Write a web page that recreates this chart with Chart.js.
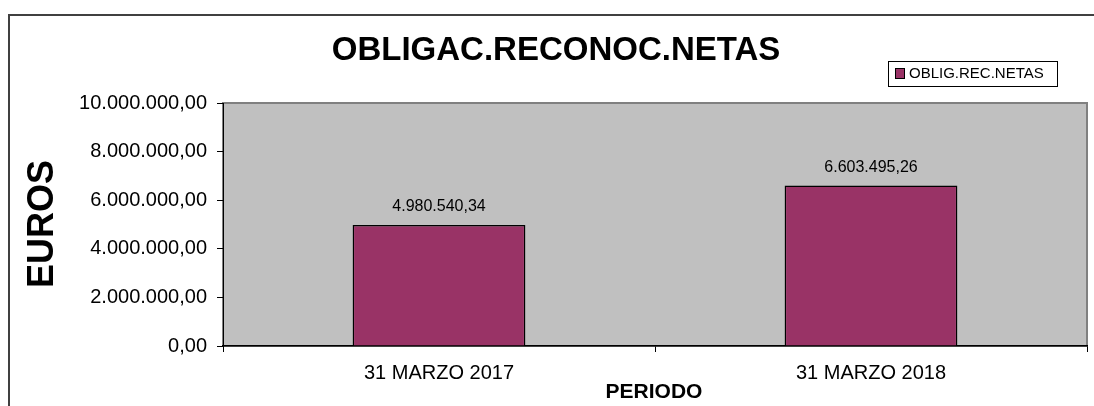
<!DOCTYPE html>
<html>
<head>
<meta charset="utf-8">
<script src="https://cdn.jsdelivr.net/npm/chart.js@4"></script>
<style>
  html, body { margin: 0; padding: 0; background: #fff; }
  #wrap { width: 1094px; height: 406px; }
</style>
</head>
<body>
<div id="wrap"><canvas id="chart" width="1094" height="406"></canvas></div>
<script>
// Chart data
const categories = ['31 MARZO 2017', '31 MARZO 2018'];
const seriesName = 'OBLIG.REC.NETAS';
const seriesValues = [4980540.34, 6603495.26];
const yTicks = [0, 2000000, 4000000, 6000000, 8000000, 10000000];

const FONT = '"Liberation Sans", Arial, sans-serif';
const BAR_COLOR = '#993366';

// 1234567.8 -> "1.234.567,80"
function fmt(v) {
    const parts = v.toFixed(2).split('.');
    const int = parts[0].replace(/\B(?=(\d{3})+(?!\d))/g, '.');
    return int + ',' + parts[1];
}

// frame, plot background, title, axis titles, legend and bar labels
const decor = {
    id: 'decor',
    beforeDraw(chart) {
        const { ctx, chartArea: a } = chart;
        ctx.save();
        ctx.fillStyle = '#fff';
        ctx.fillRect(0, 0, chart.width, chart.height);
        ctx.strokeStyle = '#404040';
        ctx.lineWidth = 2;
        ctx.strokeRect(9, 15, 1200, 600);
        ctx.fillStyle = '#C0C0C0';
        ctx.fillRect(a.left, a.top, a.right - a.left, a.bottom - a.top);
        ctx.strokeStyle = '#808080';
        ctx.lineWidth = 2;
        ctx.strokeRect(a.left, a.top, a.right - a.left, a.bottom - a.top);
        ctx.restore();
    },
    afterDraw(chart) {
        const { ctx } = chart;
        ctx.save();
        ctx.fillStyle = '#000';
        ctx.textAlign = 'center';
        ctx.textBaseline = 'middle';

        ctx.font = 'bold 33px ' + FONT;
        ctx.fillText('OBLIGAC.RECONOC.NETAS', 556, 51);

        ctx.font = 'bold 21px ' + FONT;
        ctx.fillText('PERIODO', 654, 392);

        ctx.save();
        ctx.translate(42, 224);
        ctx.rotate(-Math.PI / 2);
        ctx.font = 'bold 36px ' + FONT;
        ctx.fillText('EUROS', 0, 1);
        ctx.restore();

        // value labels over the bars
        ctx.font = '16px ' + FONT;
        const meta = chart.getDatasetMeta(0);
        meta.data.forEach((bar, i) => {
            ctx.fillText(fmt(seriesValues[i]), bar.x, bar.y - 18);
        });

        // legend box
        ctx.fillStyle = '#fff';
        ctx.fillRect(888, 61, 169, 25);
        ctx.strokeStyle = '#000';
        ctx.lineWidth = 1;
        ctx.strokeRect(888.5, 61.5, 169, 25);
        ctx.fillStyle = BAR_COLOR;
        ctx.fillRect(895.5, 68.5, 9, 10);
        ctx.strokeRect(895.5, 68.5, 9, 10);
        ctx.fillStyle = '#000';
        ctx.textAlign = 'left';
        ctx.font = '15px ' + FONT;
        ctx.fillText(seriesName, 909, 74);
        ctx.restore();
    }
};

new Chart(document.getElementById('chart'), {
    type: 'bar',
    data: {
        labels: categories,
        datasets: [{
            label: seriesName,
            data: seriesValues,
            backgroundColor: BAR_COLOR,
            borderColor: '#000',
            borderWidth: 1.5,
            barPercentage: 0.4,
            categoryPercentage: 1.0
        }]
    },
    options: {
        responsive: false,
        animation: false,
        devicePixelRatio: 1,
        layout: { padding: { left: 0, top: 103, right: 7, bottom: 0 } },
        plugins: {
            legend: { display: false },
            title: { display: false },
            tooltip: { enabled: false }
        },
        scales: {
            x: {
                offset: true,
                grid: {
                    offset: true,
                    drawOnChartArea: false,
                    drawTicks: true,
                    tickLength: 6,
                    color: '#000'
                },
                border: { color: '#000', width: 1.5 },
                ticks: { color: '#000', font: { family: FONT, size: 20 }, padding: 9, maxRotation: 0 },
                afterFit(scale) { scale.height = 60; }
            },
            y: {
                min: 0,
                max: 10000000,
                afterBuildTicks(scale) { scale.ticks = yTicks.map(v => ({ value: v })); },
                grid: {
                    drawOnChartArea: false,
                    drawTicks: true,
                    tickLength: 6,
                    color: '#000'
                },
                border: { color: '#000', width: 1 },
                ticks: {
                    color: '#000',
                    font: { family: FONT, size: 20 },
                    padding: 10,
                    callback: v => fmt(v)
                },
                afterFit(scale) { scale.width = 223; }
            }
        }
    },
    plugins: [decor]
});
</script>
</body>
</html>
